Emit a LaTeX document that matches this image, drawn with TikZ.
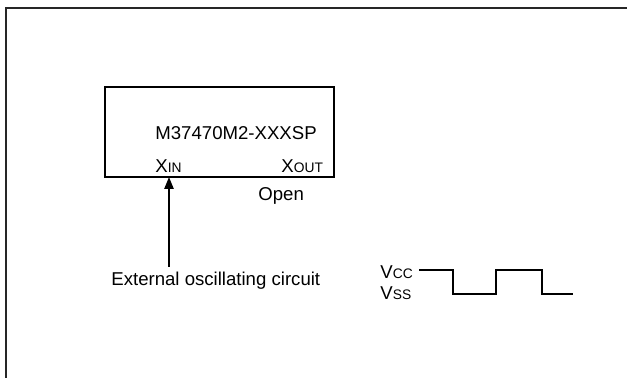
\documentclass[tikz,border=0pt]{standalone}
\usepackage{fontspec}
\setmainfont{Liberation Sans}
\usepackage{tikz}
\usetikzlibrary{arrows.meta}
\usetikzlibrary{positioning}

\newcommand{\pinsub}[1]{{\fontsize{6.9}{8}\selectfont #1}}

\tikzset{
  frameline/.style={draw=black!85, line width=1.3pt},
  chipbox/.style={draw, line width=1pt, minimum width=114.5pt, minimum height=45pt, inner sep=0pt},
  txt/.style={anchor=base west, inner sep=0pt, font=\fontsize{9.3}{11}\selectfont},
  feed/.style={line width=1pt, -{Triangle[length=6pt, width=4.6pt]}},
  wave/.style={line width=1pt}
}

\begin{document}
\begin{tikzpicture}[x=0.5pt, y=-0.5pt]
%%% outer frame %%%
      \useasboundingbox (0,0) rectangle (627,378);
      \draw[frameline] (627,8) -| (6,378);

      %% the chip
      \node[chipbox] (chip) at (219.5,132) {};
      \node[txt] (name) at (155,140) {M37470M2-XXXSP};
      \node[txt] (xin) at (155,173) {X\pinsub{IN}};
      \node[txt] (xout) at (281,173) {X\pinsub{OUT}};
      \node[txt] (open) at (258,201) {Open};

      %% oscillator input
      \node[txt] (ext) at (111,286) {External oscillating circuit};
      \coordinate (xinpin) at (169,177);
      \draw[feed] (xinpin |- 0,267) -- (xinpin);

      %% clock waveform
      \node[txt] (vcc) at (380,279) {V\pinsub{CC}};
      \node[txt] (vss) at (380,300) {V\pinsub{SS}};
      \draw[wave] (419,270) -| (453,294) -| (496,270) -| (542,294) -- (573,294);

\end{tikzpicture}
\end{document}
